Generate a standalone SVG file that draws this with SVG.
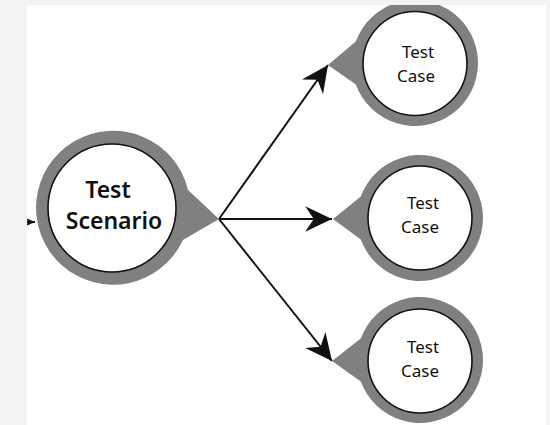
<svg xmlns="http://www.w3.org/2000/svg" width="550" height="425" viewBox="0 0 550 425">
  <style>
    .halo { fill: #808080; }
    .disc { fill: #ffffff; stroke: #111111; stroke-width: 1.6; }
    .edge { fill: none; stroke: #111111; stroke-width: 2; }
    .lbl { font-family: "Noto Sans", "Open Sans", sans-serif; fill: #111111; text-anchor: middle; }
    .big { font-size: 23px; font-weight: 600; }
    .small { font-size: 17px; }
  </style>
  <defs>
    <marker id="head" markerUnits="userSpaceOnUse" markerWidth="30" markerHeight="30" viewBox="-26 -13 28 26" refX="0" refY="0" orient="auto">
      <path d="M0,0 L-25,-12 L-17,0 L-25,12 Z" fill="#111111"/>
    </marker>
    <marker id="headSmall" markerUnits="userSpaceOnUse" markerWidth="12" markerHeight="12" viewBox="-10 -5 11 10" refX="0" refY="0" orient="auto">
      <path d="M0,0 L-9,-4 L-6,0 L-9,4 Z" fill="#111111"/>
    </marker>
    <clipPath id="panel">
      <rect x="27" y="5" width="519" height="420"/>
    </clipPath>
  </defs>

  <!-- page and white sheet -->
  <rect x="0" y="0" width="550" height="425" fill="#f3f3f3"/>
  <rect x="27" y="5" width="519" height="420" fill="#ffffff"/>

  <g clip-path="url(#panel)">
    <g id="connectors">
      <line class="edge" x1="5" y1="222" x2="35" y2="222" marker-end="url(#headSmall)"/>
      <line class="edge" x1="219" y1="219" x2="328" y2="65" marker-end="url(#head)"/>
      <line class="edge" x1="219" y1="219" x2="332" y2="219" marker-end="url(#head)"/>
      <line class="edge" x1="219" y1="219" x2="332" y2="361" marker-end="url(#head)"/>
    </g>

    <g id="scenario">
      <path class="halo" d="M188,190 L219,219 L183,240 A77,77 0 1 1 188,190 Z"/>
      <circle class="disc" cx="112" cy="208" r="64"/>
      <text class="lbl big" x="108" y="198">Test</text>
      <text class="lbl big" x="114" y="229">Scenario</text>
    </g>

    <g id="case1">
      <path class="halo" d="M355.8,41.5 L328,65 L355.8,84.5 A63,63 0 1 0 355.8,41.5 Z"/>
      <circle class="disc" cx="415" cy="63.5" r="52"/>
      <text class="lbl small" x="418" y="58">Test</text>
      <text class="lbl small" x="416" y="82">Case</text>
    </g>

    <g id="case2">
      <path class="halo" d="M360.8,196.5 L333,219 L360.8,239.5 A63,63 0 1 0 360.8,196.5 Z"/>
      <circle class="disc" cx="420" cy="218" r="52"/>
      <text class="lbl small" x="423" y="209">Test</text>
      <text class="lbl small" x="420" y="233">Case</text>
    </g>

    <g id="case3">
      <path class="halo" d="M360.8,338.5 L332,361 L360.8,381.5 A63,63 0 1 0 360.8,338.5 Z"/>
      <circle class="disc" cx="420" cy="361" r="52"/>
      <text class="lbl small" x="423" y="353">Test</text>
      <text class="lbl small" x="420" y="377">Case</text>
    </g>
  </g>
</svg>
